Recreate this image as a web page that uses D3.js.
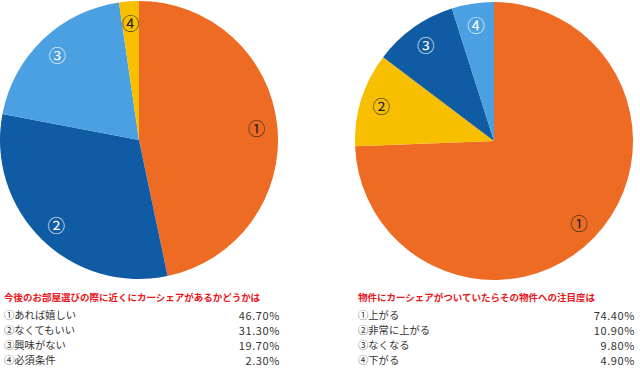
<!DOCTYPE html>
<html>
<head>
<meta charset="utf-8">
<script src="https://cdn.jsdelivr.net/npm/d3@7"></script>
<style>
  html, body { margin: 0; padding: 0; background: #fff; }
  svg { display: block; }
  text { font-family: "Noto Sans CJK JP", "Noto Sans", sans-serif; }
</style>
</head>
<body>
<svg id="chart" width="640" height="376"></svg>
<script>
const markers = ["①", "②", "③", "④"];

const leftTitle = "今後のお部屋選びの際に近くにカーシェアがあるかどうかは";
const leftCategories = ["あれば嬉しい", "なくてもいい", "興味がない", "必須条件"];
const leftValues = [46.7, 31.3, 19.7, 2.3];
const leftColors = ["#EE6B23", "#0F5CA5", "#4AA0E1", "#F8BE00"];

const rightTitle = "物件にカーシェアがついていたらその物件への注目度は";
const rightCategories = ["上がる", "非常に上がる", "なくなる", "下がる"];
const rightValues = [74.4, 10.9, 9.8, 4.9];
const rightColors = ["#EE6B23", "#F8BE00", "#0F5CA5", "#4AA0E1"];

const darkLabelColors = ["#EE6B23", "#F8BE00"];

const svg = d3.select("#chart");

function drawPanel(cfg) {
  const g = svg.append("g");
  const data = cfg.values.map((v, i) => ({ v, i }));
  const pie = d3.pie().sort(null).value(d => d.v);
  const arcs = pie(data);
  const arc = d3.arc().innerRadius(0).outerRadius(cfg.r);
  const labelArc = d3.arc().innerRadius(cfg.r * 0.85).outerRadius(cfg.r * 0.85);

  const pg = g.append("g").attr("transform", `translate(${cfg.cx},${cfg.cy})`);
  pg.selectAll("path").data(arcs).enter().append("path")
    .attr("d", arc)
    .attr("fill", d => cfg.colors[d.data.i]);

  pg.selectAll("text").data(arcs).enter().append("text")
    .attr("transform", d => `translate(${labelArc.centroid(d)})`)
    .attr("text-anchor", "middle")
    .attr("dominant-baseline", "central")
    .attr("font-size", 17.5)
    .attr("fill", d => darkLabelColors.includes(cfg.colors[d.data.i]) ? "#222" : "#fff")
    .text(d => markers[d.data.i]);

  g.append("text")
    .attr("x", cfg.textX).attr("y", 297)
    .attr("dominant-baseline", "central")
    .attr("font-size", 9.5)
    .attr("font-weight", "bold")
    .attr("fill", "#E8161B")
    .text(cfg.title);

  const rowY = d3.scaleLinear().domain([0, 3]).range([314, 359]);
  cfg.categories.forEach((c, i) => {
    g.append("text")
      .attr("x", cfg.textX).attr("y", rowY(i))
      .attr("dominant-baseline", "central")
      .attr("font-size", 10.3)
      .attr("fill", "#333")
      .text(markers[i] + c);
    g.append("text")
      .attr("x", cfg.pctX).attr("y", rowY(i) + 0.5)
      .attr("dominant-baseline", "central")
      .attr("text-anchor", "end")
      .attr("font-size", 11)
      .attr("letter-spacing", 0.6)
      .attr("font-family", "'Liberation Sans', Arial, sans-serif")
      .attr("fill", "#333")
      .text(cfg.values[i].toFixed(2) + "%");
  });
}

drawPanel({
  cx: 139, cy: 140, r: 139,
  values: leftValues, colors: leftColors, categories: leftCategories,
  title: leftTitle, textX: 4, pctX: 280
});
drawPanel({
  cx: 494, cy: 141, r: 139,
  values: rightValues, colors: rightColors, categories: rightCategories,
  title: rightTitle, textX: 358, pctX: 635
});
</script>
</body>
</html>
